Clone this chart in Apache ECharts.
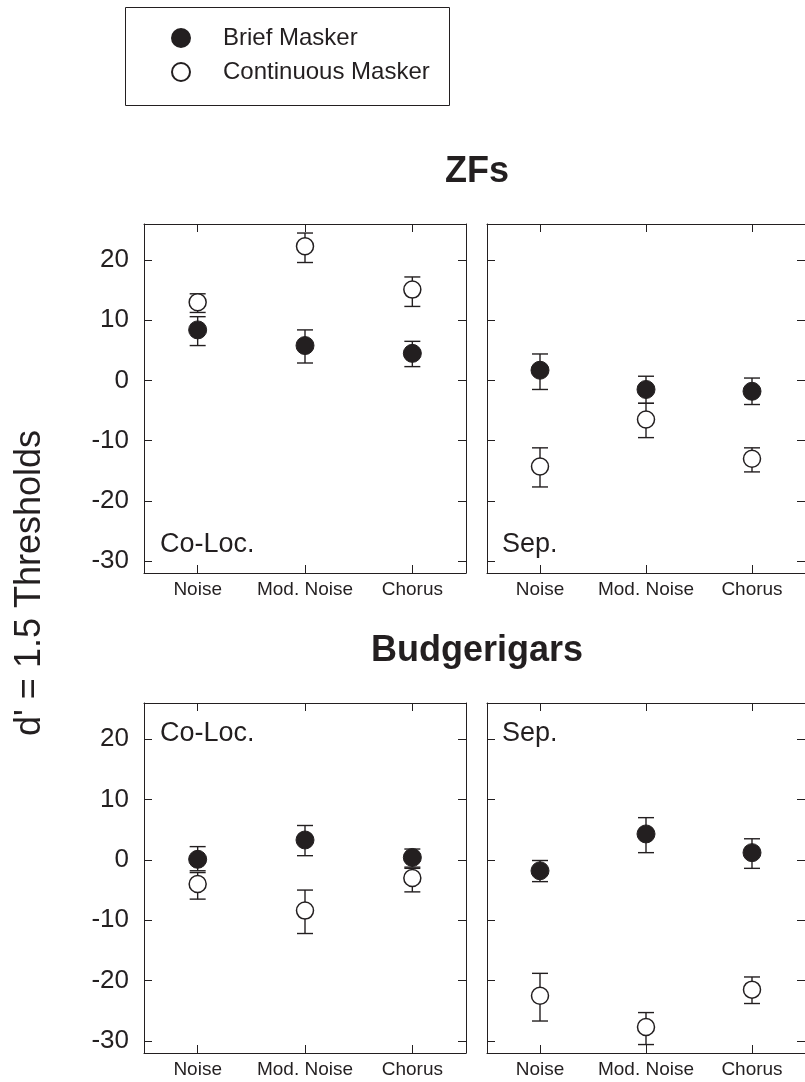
<!DOCTYPE html>
<html>
<head>
<meta charset="utf-8">
<title>d' = 1.5 Thresholds</title>
<script src="https://cdn.jsdelivr.net/npm/echarts@6/dist/echarts.min.js"></script>
<style>
  html, body { margin: 0; padding: 0; background: #fff; }
  #chart { width: 805px; height: 1082px; }
</style>
</head>
<body>
<div id="chart"></div>
<script>
// Masker conditions on the x axis and tick values on the y axis
const categories = ['Noise', 'Mod. Noise', 'Chorus'];
const yTicks = [-30, -20, -10, 0, 10, 20];

// Zebra finches, co-located
const zfCoBrief   = [8.4, 5.8, 4.5];
const zfCoBriefLo = [5.8, 2.9, 2.3];
const zfCoBriefHi = [10.6, 8.4, 6.5];
const zfCoCont    = [13.0, 22.3, 15.1];
const zfCoContLo  = [11.3, 19.6, 12.3];
const zfCoContHi  = [14.4, 24.5, 17.2];

// Zebra finches, separated
const zfSepBrief   = [1.7, -1.5, -1.8];
const zfSepBriefLo = [-1.5, -3.8, -4.0];
const zfSepBriefHi = [4.4, 0.7, 0.4];
const zfSepCont    = [-14.3, -6.5, -13.0];
const zfSepContLo  = [-17.7, -9.5, -15.2];
const zfSepContHi  = [-11.2, -3.8, -11.2];

// Budgerigars, co-located
const bgCoBrief   = [0.1, 3.3, 0.4];
const bgCoBriefLo = [-1.8, 0.7, -1.2];
const bgCoBriefHi = [2.2, 5.7, 1.8];
const bgCoCont    = [-4.0, -8.4, -3.0];
const bgCoContLo  = [-6.5, -12.2, -5.3];
const bgCoContHi  = [-2.1, -5.0, -1.4];

// Budgerigars, separated
const bgSepBrief   = [-1.8, 4.3, 1.2];
const bgSepBriefLo = [-3.6, 1.2, -1.4];
const bgSepBriefHi = [-0.1, 7.0, 3.5];
const bgSepCont    = [-22.5, -27.7, -21.5];
const bgSepContLo  = [-26.7, -30.6, -23.8];
const bgSepContHi  = [-18.8, -25.3, -19.4];

const INK = '#231f20';
const FONT = '"Liberation Sans", Arial, Helvetica, sans-serif';

const panels = [
  { brief: zfCoBrief,  briefLo: zfCoBriefLo,  briefHi: zfCoBriefHi,  cont: zfCoCont,  contLo: zfCoContLo,  contHi: zfCoContHi,  showY: true },
  { brief: zfSepBrief, briefLo: zfSepBriefLo, briefHi: zfSepBriefHi, cont: zfSepCont, contLo: zfSepContLo, contHi: zfSepContHi, showY: false },
  { brief: bgCoBrief,  briefLo: bgCoBriefLo,  briefHi: bgCoBriefHi,  cont: bgCoCont,  contLo: bgCoContLo,  contHi: bgCoContHi,  showY: true },
  { brief: bgSepBrief, briefLo: bgSepBriefLo, briefHi: bgSepBriefHi, cont: bgSepCont, contLo: bgSepContLo, contHi: bgSepContHi, showY: false }
];

const grids = [
  { left: 144, top: 224, width: 322, height: 349 },
  { left: 487, top: 224, width: 322, height: 349 },
  { left: 144, top: 703, width: 322, height: 350 },
  { left: 487, top: 703, width: 322, height: 350 }
];

const lineStyle = { color: INK, width: 1 };
const tickStyle = { show: true, inside: true, length: 8, lineStyle: lineStyle };

const xAxes = [];
const yAxes = [];
const series = [];

function errorBars(params, api) {
  const x = api.value(0);
  const lo = api.coord([x, api.value(1)]);
  const hi = api.coord([x, api.value(2)]);
  const cap = 8;
  const st = { stroke: INK, lineWidth: 1.4 };
  return {
    type: 'group',
    children: [
      { type: 'line', shape: { x1: lo[0], y1: lo[1], x2: hi[0], y2: hi[1] }, style: st },
      { type: 'line', shape: { x1: lo[0] - cap, y1: lo[1], x2: lo[0] + cap, y2: lo[1] }, style: st },
      { type: 'line', shape: { x1: hi[0] - cap, y1: hi[1], x2: hi[0] + cap, y2: hi[1] }, style: st }
    ]
  };
}

panels.forEach(function (p, i) {
  // bottom category axis with labels, plus a mirrored top axis closing the frame
  xAxes.push({
    gridIndex: i, type: 'category', data: categories, boundaryGap: true, position: 'bottom',
    axisLine: { show: true, onZero: false, lineStyle: lineStyle },
    axisTick: Object.assign({ alignWithLabel: true }, tickStyle),
    axisLabel: { show: true, color: INK, fontFamily: FONT, fontSize: 19, margin: 7, interval: 0 },
    splitLine: { show: false }
  });
  xAxes.push({
    gridIndex: i, type: 'category', data: categories, boundaryGap: true, position: 'top',
    axisLine: { show: true, onZero: false, lineStyle: lineStyle },
    axisTick: Object.assign({ alignWithLabel: true }, tickStyle),
    axisLabel: { show: false },
    splitLine: { show: false }
  });
  yAxes.push({
    gridIndex: i, type: 'value', min: -32, max: 26, position: 'left',
    axisLine: { show: true, onZero: false, lineStyle: lineStyle },
    axisTick: Object.assign({ customValues: yTicks }, tickStyle),
    axisLabel: { show: p.showY, customValues: yTicks, color: INK, fontFamily: FONT, fontSize: 26, margin: 15 },
    splitLine: { show: false }
  });
  yAxes.push({
    gridIndex: i, type: 'value', min: -32, max: 26, position: 'right',
    axisLine: { show: true, onZero: false, lineStyle: lineStyle },
    axisTick: Object.assign({ customValues: yTicks }, tickStyle),
    axisLabel: { show: false },
    splitLine: { show: false }
  });

  const xi = i * 2;
  const yi = i * 2;

  series.push({
    type: 'custom', xAxisIndex: xi, yAxisIndex: yi, z: 2, silent: true,
    renderItem: errorBars,
    encode: { x: 0, y: [1, 2] },
    data: categories.map(function (c, k) { return [k, p.briefLo[k], p.briefHi[k]]; })
  });
  series.push({
    type: 'custom', xAxisIndex: xi, yAxisIndex: yi, z: 2, silent: true,
    renderItem: errorBars,
    encode: { x: 0, y: [1, 2] },
    data: categories.map(function (c, k) { return [k, p.contLo[k], p.contHi[k]]; })
  });
  series.push({
    name: 'Brief Masker', type: 'scatter', xAxisIndex: xi, yAxisIndex: yi, z: 3,
    symbol: 'circle', symbolSize: 18,
    itemStyle: { color: INK, borderColor: INK, borderWidth: 1, opacity: 1 },
    data: categories.map(function (c, k) { return [k, p.brief[k]]; })
  });
  series.push({
    name: 'Continuous Masker', type: 'scatter', xAxisIndex: xi, yAxisIndex: yi, z: 3,
    symbol: 'circle', symbolSize: 17,
    itemStyle: { color: '#ffffff', borderColor: INK, borderWidth: 1.5, opacity: 1 },
    data: categories.map(function (c, k) { return [k, p.cont[k]]; })
  });
});

function label(text, x, y, size) {
  return {
    type: 'text', x: x, y: y, silent: true,
    style: {
      text: text, fill: INK, font: 'normal ' + size + 'px ' + FONT,
      textAlign: 'left', textVerticalAlign: 'middle'
    }
  };
}

function heading(text, x, y) {
  return {
    type: 'text', x: x, y: y, silent: true,
    style: { text: text, fill: INK, font: 'bold 36px ' + FONT, textAlign: 'center', textVerticalAlign: 'middle' }
  };
}

const graphics = [
  { type: 'rect', shape: { x: 125.5, y: 7.5, width: 324, height: 98 },
    style: { fill: 'none', stroke: INK, lineWidth: 1 }, silent: true },
  heading('ZFs', 477, 172),
  heading('Budgerigars', 477, 651),
  label('Co-Loc.', 160, 545, 27),
  label('Sep.', 502, 545, 27),
  label('Co-Loc.', 160, 734, 27),
  label('Sep.', 502, 734, 27),
  {
    type: 'text', x: 30, y: 583, rotation: Math.PI / 2, silent: true,
    style: { text: "d' = 1.5 Thresholds", fill: INK, font: 'normal 36px ' + FONT, textAlign: 'center', textVerticalAlign: 'middle' }
  }
];

const chart = echarts.init(document.getElementById('chart'), null, { renderer: 'canvas' });
chart.setOption({
  backgroundColor: '#ffffff',
  animation: false,
  textStyle: { fontFamily: FONT, color: INK },
  legend: {
    data: ['Brief Masker', 'Continuous Masker'],
    orient: 'vertical', left: 171, top: 26, padding: 0,
    itemWidth: 18, itemHeight: 18, itemGap: 10,
    selectedMode: false,
    textStyle: { color: INK, fontFamily: FONT, fontSize: 24, lineHeight: 24, padding: [0, 0, 0, 28] }
  },
  grid: grids,
  xAxis: xAxes,
  yAxis: yAxes,
  series: series,
  graphic: graphics
});
</script>
</body>
</html>
